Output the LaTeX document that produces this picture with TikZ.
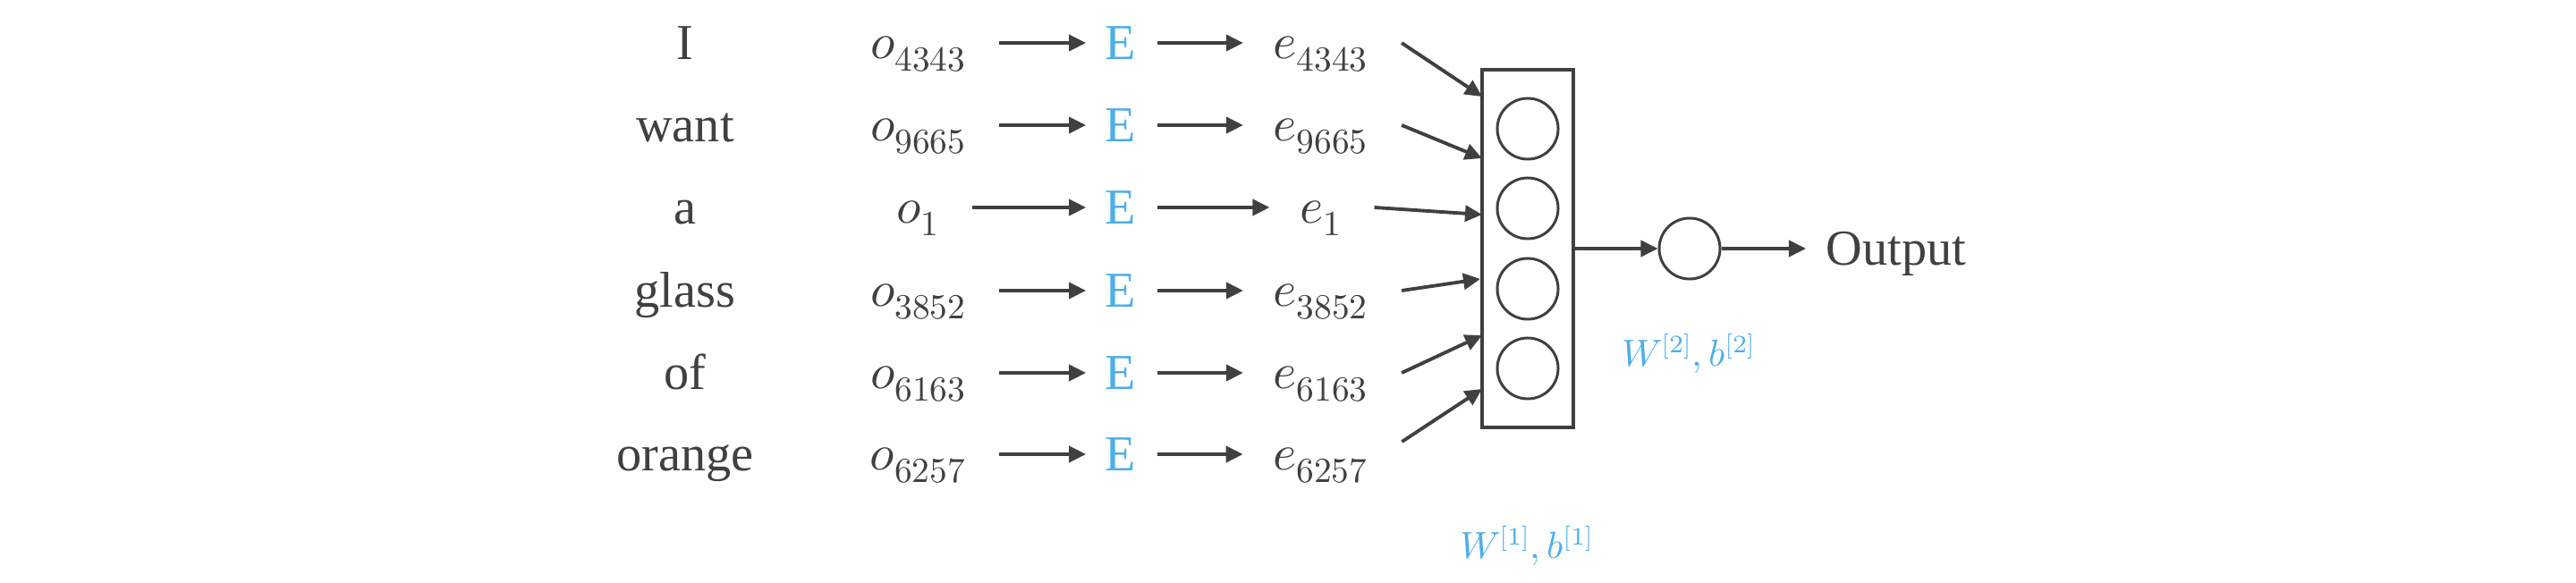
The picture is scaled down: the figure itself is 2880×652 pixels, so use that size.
\documentclass[tikz,border=0pt]{standalone}
\usepackage{fontspec}
\usepackage{unicode-math}
\setmainfont{Liberation Serif}
\setmathfont{Latin Modern Math}
\usetikzlibrary{arrows.meta,calc}
\definecolor{ink}{RGB}{64,64,64}
\definecolor{sky}{RGB}{77,174,232}
\tikzset{
  txt/.style={inner sep=0pt, anchor=base, text=ink, font=\fontsize{16pt}{19pt}\selectfont},
  emb/.style={inner sep=0pt, anchor=base, text=sky, font=\fontsize{16pt}{19pt}\selectfont},
  lbl/.style={inner sep=0pt, anchor=base, text=sky, font=\fontsize{12pt}{14pt}\selectfont},
  arr/.style={draw=ink, line width=1.1pt, -{Triangle[length=0.19cm,width=0.18cm]}},
  unit/.style={circle, draw=ink, line width=0.85pt, minimum size=0.68cm, inner sep=0pt},
  layer/.style={draw=ink, line width=1pt, minimum width=1.02cm, minimum height=4.0cm, inner sep=0pt}
}
\begin{document}
\begin{tikzpicture}[x=0.01cm,y=-0.01cm]
\useasboundingbox (0,0) rectangle (2880,652);
% row reference coordinates
\coordinate (r1) at (0,48);
\coordinate (r2) at (0,140);
\coordinate (r3) at (0,232);
\coordinate (r4) at (0,325);
\coordinate (r5) at (0,417);
\coordinate (r6) at (0,508);
\coordinate (r6b) at (0,494);
% words
\node[txt] (w1) at (766,67) {I};
\node[txt] (w2) at (766,159) {want};
\node[txt] (w3) at (766,251) {a};
\node[txt] (w4) at (766,344) {glass};
\node[txt] (w5) at (766,436) {of};
\node[txt] (w6) at (766,527) {orange};
% one-hot
\node[txt] (o1) at (1027,66) {$o_{4343}$};
\node[txt] (o2) at (1027,158) {$o_{9665}$};
\node[txt] (o3) at (1027,250) {$o_{1}$};
\node[txt] (o4) at (1027,343) {$o_{3852}$};
\node[txt] (o5) at (1027,435) {$o_{6163}$};
\node[txt] (o6) at (1027,526) {$o_{6257}$};
% E
\node[emb] (E1) at (1253,67) {E};
\node[emb] (E2) at (1253,159) {E};
\node[emb] (E3) at (1253,251) {E};
\node[emb] (E4) at (1253,344) {E};
\node[emb] (E5) at (1253,436) {E};
\node[emb] (E6) at (1253,527) {E};
% embeddings
\node[txt] (e1) at (1477,66) {$e_{4343}$};
\node[txt] (e2) at (1477,158) {$e_{9665}$};
\node[txt] (e3) at (1477,250) {$e_{1}$};
\node[txt] (e4) at (1477,343) {$e_{3852}$};
\node[txt] (e5) at (1477,435) {$e_{6163}$};
\node[txt] (e6) at (1477,526) {$e_{6257}$};
% arrows o -> E -> e
\foreach \i in {1,...,6}{
  \draw[arr, shorten <=0.35cm, shorten >=0.21cm] (o\i.east |- r\i) -- (E\i.west |- r\i);
  \draw[arr, shorten <=0.23cm, shorten >=0.33cm] (E\i.east |- r\i) -- (e\i.west |- r\i);
}
% hidden layer
\node[layer] (box) at (1708,278) {};
\node[unit] (h1) at (1708,144) {};
\node[unit] (h2) at (1708,233) {};
\node[unit] (h3) at (1708,323) {};
\node[unit] (h4) at (1708,412) {};
% entry points on the layer
\coordinate (in1) at (1657,108);
\coordinate (in2) at (1657,177);
\coordinate (in3) at (1657,240);
\coordinate (in4) at (1655,312);
\coordinate (in5) at (1657,375);
\coordinate (in6) at (1657,435);
\draw[arr] ($(e1.east |- r1)+(36,0)$) -- (in1);
\draw[arr] ($(e2.east |- r2)+(36,0)$) -- (in2);
\draw[arr] ($(e3.east |- r3)+(35,0)$) -- (in3);
\draw[arr] ($(e4.east |- r4)+(36,0)$) -- (in4);
\draw[arr] ($(e5.east |- r5)+(36,0)$) -- (in5);
\draw[arr] ($(e6.east |- r6b)+(36,0)$) -- (in6);
% output unit
\node[unit] (c) at (1889,278) {};
\node[txt, anchor=base west] (out) at (2041,297) {Output};
\draw[arr] (box.east) -- (c.west);
\draw[arr, shorten >=0.22cm] (c.east) -- (out.west |- c);
% parameter labels
\node[lbl] (p2) at (1888,410) {$W^{[2]},b^{[2]}$};
\node[lbl] (p1) at (1707,625) {$W^{[1]},b^{[1]}$};
\end{tikzpicture}
\end{document}
